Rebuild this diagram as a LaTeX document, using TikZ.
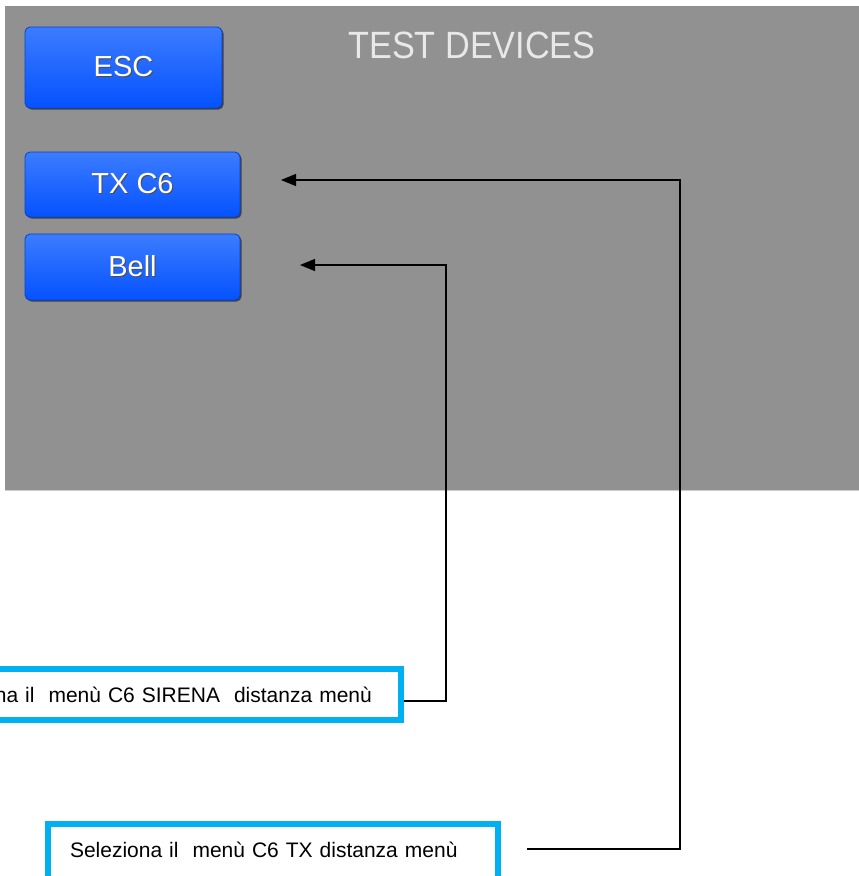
\documentclass[tikz,border=0pt]{standalone}
\usepackage{fontspec}
\setmainfont{Liberation Sans}
\usetikzlibrary{arrows.meta,positioning,shadows}

\definecolor{panelgray}{HTML}{919191}
\definecolor{btnlight}{HTML}{3C7CFF}
\definecolor{btndark}{HTML}{0552FF}
\definecolor{notecyan}{HTML}{00B0F0}
\definecolor{titlegray}{HTML}{E8E8E8}

% white label with a small dark drop
\newcommand{\btntext}[1]{\rlap{\hspace{1pt}\raisebox{-1pt}{\textcolor{black!70}{#1}}}#1}

\begin{document}
\begin{tikzpicture}[x=1pt, y=-1pt, every node/.style={inner sep=0pt}]
\useasboundingbox (0,0) rectangle (859,876);
\clip (0,0) rectangle (859,876);

\coordinate (txturn) at (680,180);
\coordinate (txtip) at (281,180);
\coordinate (bellturn) at (446,265);
\coordinate (belltip) at (300,265);

\fill[panelgray] (5,6) rectangle (859,490);
\draw[gray!40, line width=1pt] (5,490) -- (859,490);

\node[text=titlegray, font=\fontsize{38}{42}\selectfont] (title) at (472,45.5) {\scalebox{.9}[1]{TEST DEVICES}};

\begin{scope}[every node/.style={inner sep=0pt, rounded corners=5pt, top color=btnlight, bottom color=btndark,
    draw=btndark!80!black, line width=.8pt, text=white, font=\fontsize{29}{32}\selectfont,
    drop shadow={shadow xshift=1.5pt, shadow yshift=-1.5pt, fill=black, opacity=.55}}]
\node[minimum width=197pt, minimum height=81pt] (esc) at (123.5,67.5) {\btntext{ESC}};
\node[minimum width=215pt, minimum height=65pt] (txbtn) at (132.5,184.5) {\btntext{TX C6}};
\node[minimum width=215pt, minimum height=66pt] (bellbtn) at (132.5,267) {\btntext{Bell}};
\end{scope}

\begin{scope}[every node/.style={draw=notecyan, line width=6pt, fill=white, inner xsep=20pt, inner ysep=0pt,
    minimum height=51pt, align=left, font=\fontsize{21}{25}\selectfont}]
\node[text width=455pt] (sirenanote) at (153.5,694.5) {Seleziona il \ menù C6 SIRENA \ distanza menù};
\node[text width=406pt, inner xsep=22pt, minimum height=71pt, text height=15pt, text depth=20pt]
  (txnote) at (273,859.5) {Seleziona il \ menù C6 TX distanza menù};
\end{scope}

\begin{scope}[line width=1.2pt, -{Triangle[length=15pt, width=12pt]}]
\draw ([xshift=26pt, yshift=10.5pt]txnote.east) -| (txturn) -- (txtip);
\draw ([yshift=-6.5pt]sirenanote.east) -| (bellturn) -- (belltip);
\end{scope}

\end{tikzpicture}
\end{document}
